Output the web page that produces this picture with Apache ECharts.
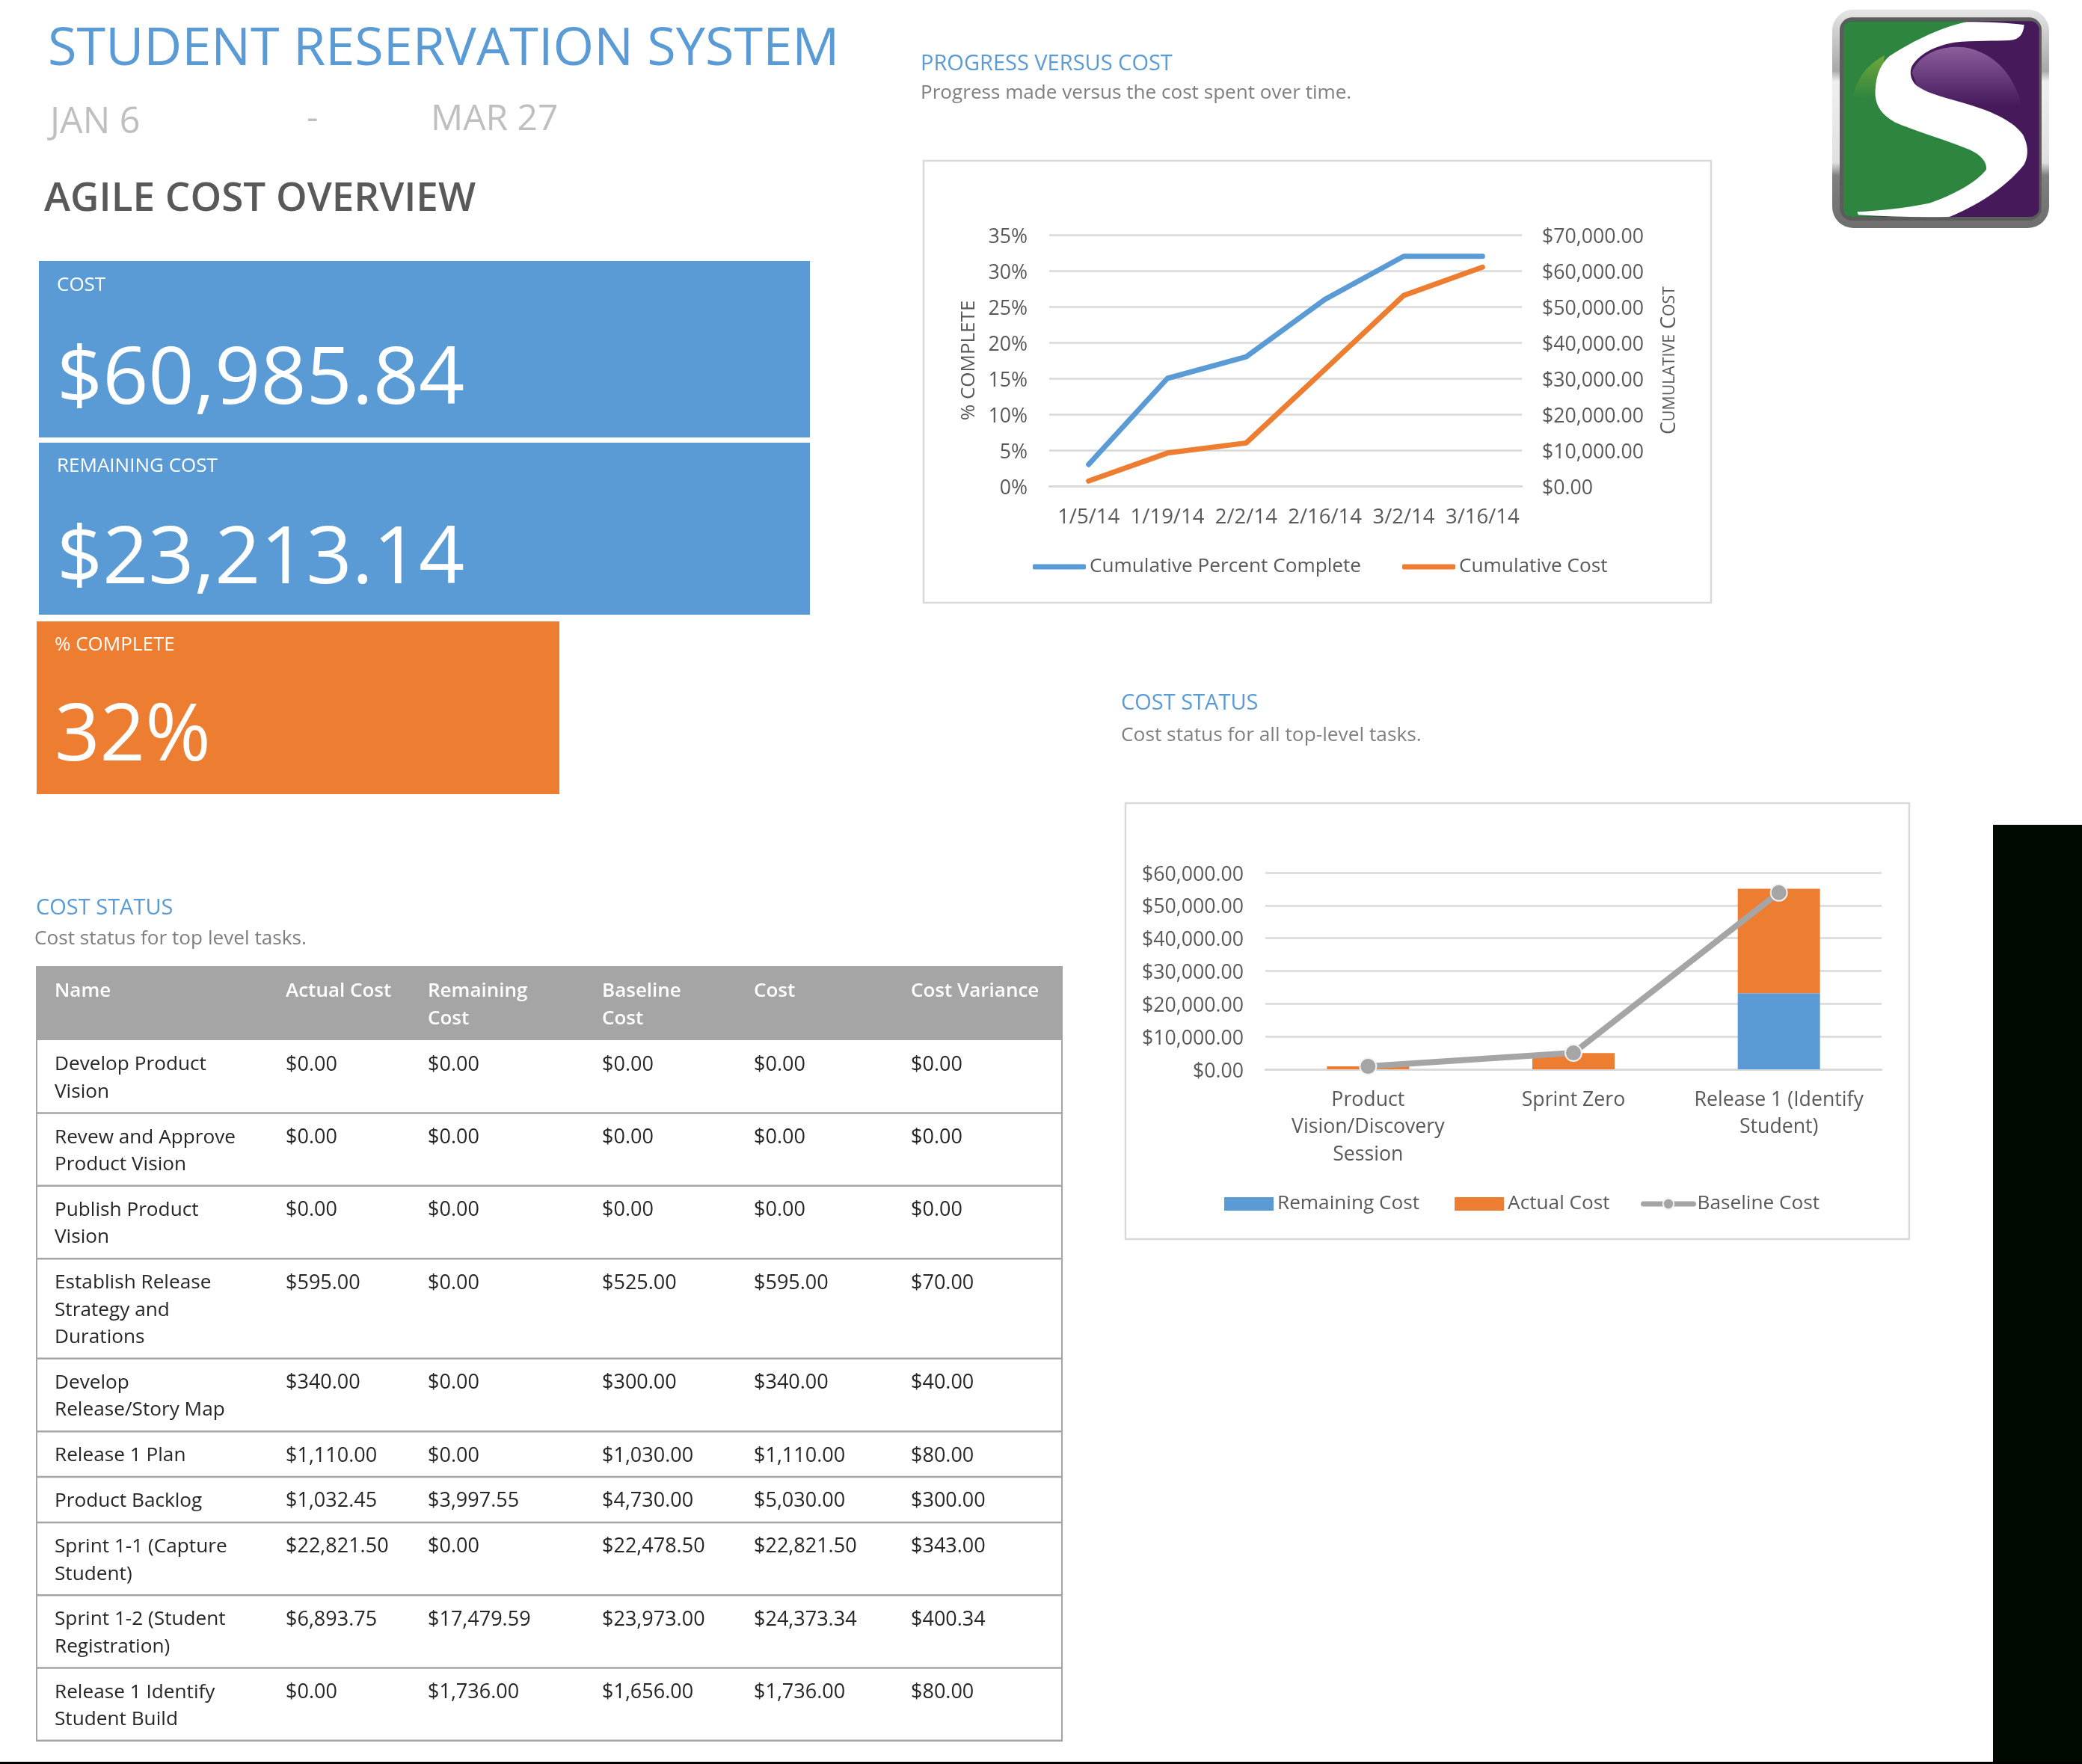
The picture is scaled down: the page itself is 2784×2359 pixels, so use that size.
<!DOCTYPE html>
<html><head><meta charset="utf-8">
<style>html,body{margin:0;padding:0;background:#fff}#c{width:2784px;height:2359px}</style>
<script src="https://cdn.jsdelivr.net/npm/echarts@6/dist/echarts.min.js"></script>
</head><body><div id="c"></div>
<script>
// ---------- data ----------
const progressDates = ['1/5/14','1/19/14','2/2/14','2/16/14','3/2/14','3/16/14'];
const cumulativePercent = [3,15,18,26,32,32];
const cumulativeCost = [1400,9200,12000,32500,53100,60985.84];

const statusCategories = ['Product\nVision/Discovery\nSession','Sprint Zero','Release 1 (Identify\nStudent)'];
const remainingSeries = [0,0,23213.14];
const actualSeries = [935,4980,31857.70];
const baselineSeries = [900,5000,53900];

const tableHeaders = ['Name','Actual Cost','Remaining\nCost','Baseline\nCost','Cost','Cost Variance'];
const taskNames = ['Develop Product\nVision','Revew and Approve\nProduct Vision','Publish Product\nVision','Establish Release\nStrategy and\nDurations','Develop\nRelease/Story Map','Release 1 Plan','Product Backlog','Sprint 1-1 (Capture\nStudent)','Sprint 1-2 (Student\nRegistration)','Release 1 Identify\nStudent Build'];
const actualCost = ['$0.00','$0.00','$0.00','$595.00','$340.00','$1,110.00','$1,032.45','$22,821.50','$6,893.75','$0.00'];
const remainingCost = ['$0.00','$0.00','$0.00','$0.00','$0.00','$0.00','$3,997.55','$0.00','$17,479.59','$1,736.00'];
const baselineCost = ['$0.00','$0.00','$0.00','$525.00','$300.00','$1,030.00','$4,730.00','$22,478.50','$23,973.00','$1,656.00'];
const totalCost = ['$0.00','$0.00','$0.00','$595.00','$340.00','$1,110.00','$5,030.00','$22,821.50','$24,373.34','$1,736.00'];
const costVariance = ['$0.00','$0.00','$0.00','$70.00','$40.00','$80.00','$300.00','$343.00','$400.34','$80.00'];

// ---------- style ----------
const FF = '"Open Sans"';
const BLUE = '#5b9bd5', ORANGE = '#ed7d31', GREY = '#a5a5a5', TXT = '#595959', GRID = '#d9d9d9';
const money = v => '{t|$' + v.toLocaleString('en-US',{minimumFractionDigits:2,maximumFractionDigits:2}) + '}';
const pct = v => '{t|' + v + '%}';

const g = [];
const T = (text,x,y,size,fill,weight) => g.push({type:'text',silent:true,style:{
  text,x,y,fill,font:`${weight||400} ${size}px ${FF}`,align:'left',verticalAlign:'middle'}});
const R = (x,y,w,h,fill) => g.push({type:'rect',silent:true,shape:{x,y,width:w,height:h},style:{fill}});
const B = (x,y,w,h) => g.push({type:'rect',silent:true,shape:{x,y,width:w,height:h},style:{fill:'none',stroke:GRID,lineWidth:2.5}});

// page heading
T('STUDENT RESERVATION SYSTEM',64,67,70.2,BLUE);
T('JAN 6',67,164,48.5,'#bfbfbf');
T('-',410,159,48,'#bfbfbf');
T('MAR 27',576,160,48,'#bfbfbf');
T('AGILE COST OVERVIEW',59,267,53,TXT,600);

// KPI tiles
R(52,349,1031,236,BLUE);
T('COST',76,382,26,'#fff');
T('$60,985.84',76,510,107,'#fff',400);
R(52,592,1031,230,BLUE);
T('REMAINING COST',76,624,26,'#fff');
T('$23,213.14',76,750,107,'#fff',400);
R(49,831,699,231,ORANGE);
T('% COMPLETE',73,863,26,'#fff');
T('32%',73,987,106,'#fff',400);

// section headings
T('PROGRESS VERSUS COST',1231,86,29,BLUE);
T('Progress made versus the cost spent over time.',1231,125,26.1,'#7f7f7f');
T('COST STATUS',1499,941,29,BLUE);
T('Cost status for all top-level tasks.',1499,984,26.3,'#7f7f7f');
T('COST STATUS',48,1215,29,BLUE);
T('Cost status for top level tasks.',46,1256,26.2,'#7f7f7f');

// chart frames
B(1235,215,1053,591);
B(1505,1074,1048,583);

// table
const colX = [73,382,572,805,1008,1218];
const tableL = 48, tableR = 1421, lineH = 36.4;
const columns = [taskNames,actualCost,remainingCost,baselineCost,totalCost,costVariance];
R(tableL,1292,tableR-tableL,99,GREY);
tableHeaders.forEach((h,i)=>h.split('\n').forEach((s,j)=>T(s,colX[i],1326+j*lineH,26,'#fff',600)));
let rowTop = 1391;
taskNames.forEach((name,r)=>{
  const lines = name.split('\n').length;
  const rowH = 24.5 + lineH*lines;
  columns.forEach((col,c)=>col[r].split('\n').forEach((s,j)=>T(s,colX[c],rowTop+33+j*lineH,c?27:26.2,'#262626')));
  rowTop += rowH;
  R(tableL,rowTop-1,tableR-tableL,2.5,GREY);
});
R(tableL,1391,2,rowTop-1391,GREY);
R(tableR-2,1391,2,rowTop-1391,GREY);

// black page edge
R(2665,1103,119,1256,'#000a00');
R(0,2356,2784,3,'#000000');

// logo (decorative, drawn in 3x logo-local units)
const logoPath = (name,d) => echarts.graphic.registerShape(name,echarts.graphic.extendPath(d,{}));
logoPath('logoGreen','M230 85 L690 85 L575 150 L420 250 L400 350 L500 470 L800 560 L850 640 L780 760 L620 865 L230 870 Q195 870 195 835 L195 120 Q195 85 230 85 Z');
logoPath('logoGlowG','M235 385 C250 310 290 260 360 222 L335 400 Z');
logoPath('logoGlowP','M470 290 C500 210 600 180 680 190 C800 210 880 300 910 425 L700 425 L500 370 Z');
logoPath('logoS','M920 100 C860 92 770 88 690 88 C600 105 480 160 380 225 C335 265 322 320 323 385 C328 430 350 460 400 490 C480 525 600 560 700 600 C745 620 772 650 768 680 C730 730 640 780 540 815 C440 835 340 845 250 850 L255 862 C380 870 500 872 620 870 C720 830 840 760 920 660 C940 620 935 580 915 540 C880 490 800 450 700 420 C620 395 540 380 490 345 C465 325 458 290 470 265 C500 215 560 185 640 170 C720 162 800 165 860 162 C890 160 915 150 920 100 Z');
g.push({type:'group',x:2400,y:0,scaleX:1/3,scaleY:1/3,silent:true,children:[
  {type:'rect',shape:{x:150,y:38,width:870,height:877,r:85},style:{fill:{type:'linear',x:0,y:0,x2:0,y2:1,colorStops:[
    {offset:0,color:'#e6e6e6'},{offset:.28,color:'#a8a8a8'},{offset:.33,color:'#efefef'},{offset:.7,color:'#e0e0e0'},{offset:.76,color:'#808080'},{offset:1,color:'#6e6e6e'}]}}},
  {type:'rect',shape:{x:180,y:70,width:810,height:815,r:50},style:{fill:'#5c5c5c'}},
  {type:'rect',shape:{x:195,y:85,width:785,height:785,r:35},style:{fill:'#45195a'}},
  {type:'logoGreen',style:{fill:'#2e8540'}},
  {type:'logoGlowG',style:{fill:{type:'linear',x:0,y:0,x2:0,y2:1,colorStops:[{offset:0,color:'#6ea63a'},{offset:1,color:'#2e8540'}]}}},
  {type:'logoGlowP',style:{fill:{type:'linear',x:0,y:0,x2:0,y2:1,colorStops:[{offset:0,color:'#8c5e9e'},{offset:1,color:'#45195a'}]}}},
  {type:'logoS',style:{fill:'#ffffff'}}
]});

const axisText = {color:TXT,fontFamily:FF,fontSize:26.7};
const legendText = {color:TXT,fontFamily:FF,fontSize:26.2};
const yRich = {rich:{t:{color:TXT,fontFamily:FF,fontSize:26.7,padding:[6,0,0,0]}}};
const grid1 = {left:1403,top:314,width:632,height:336};
const grid2 = {left:1692,top:1167,width:824,height:263};

const option = {
  animation:false,
  backgroundColor:'#ffffff',
  textStyle:{fontFamily:FF},
  grid:[grid1,grid2],
  legend:[
    {left:1381,top:745,itemWidth:71,itemHeight:7,itemGap:55,icon:'roundRect',textStyle:legendText,padding:0,
     data:['Cumulative Percent Complete','Cumulative Cost']},
    {left:1637,top:1597,itemWidth:66,itemHeight:18,itemGap:47,icon:'rect',textStyle:legendText,padding:0,
     data:['Remaining Cost','Actual Cost']},
    {left:2194,top:1597,itemWidth:67,itemHeight:18,textStyle:legendText,padding:0,
     lineStyle:{width:7,cap:'round'},data:['Baseline Cost']}
  ],
  xAxis:[
    {type:'category',gridIndex:0,data:progressDates,boundaryGap:true,axisTick:{show:false},
     axisLine:{lineStyle:{color:GRID,width:2.5}},
     axisLabel:Object.assign({},axisText,{margin:28,interval:0,fontSize:27.5})},
    {type:'category',gridIndex:1,data:statusCategories,axisTick:{show:false},
     axisLine:{lineStyle:{color:GRID,width:2.5}},
     axisLabel:Object.assign({margin:23,interval:0,lineHeight:36.5},axisText)}
  ],
  yAxis:[
    {type:'value',gridIndex:0,min:0,max:35,interval:5,axisLine:{show:false},axisTick:{show:false},
     splitLine:{lineStyle:{color:GRID,width:2.5}},
     axisLabel:Object.assign({margin:29,formatter:pct},yRich),
     name:'% COMPLETE',nameLocation:'middle',nameRotate:90,nameGap:94,
     nameTextStyle:{color:TXT,fontFamily:FF,fontSize:26}},
    {type:'value',gridIndex:0,position:'right',min:0,max:70000,interval:10000,axisLine:{show:false},axisTick:{show:false},
     splitLine:{show:false},
     axisLabel:Object.assign({margin:27,formatter:money},yRich),
     name:'{a|C}{b|UMULATIVE}{a| C}{b|OST}',nameLocation:'middle',nameRotate:90,nameGap:184,
     nameTextStyle:{color:TXT,fontFamily:FF,rich:{a:{fontSize:27,color:TXT,fontFamily:FF},b:{fontSize:21.3,color:TXT,fontFamily:FF}}}},
    {type:'value',gridIndex:1,min:0,max:60000,interval:10000,axisLine:{show:false},axisTick:{show:false},
     splitLine:{lineStyle:{color:GRID,width:2.5}},
     axisLabel:Object.assign({margin:29,formatter:money},yRich)}
  ],
  series:[
    {name:'Cumulative Percent Complete',type:'line',xAxisIndex:0,yAxisIndex:0,data:cumulativePercent,showSymbol:false,symbol:'none',
     lineStyle:{color:BLUE,width:7,cap:'round',join:'round'},itemStyle:{color:BLUE}},
    {name:'Cumulative Cost',type:'line',xAxisIndex:0,yAxisIndex:1,data:cumulativeCost,showSymbol:false,symbol:'none',
     lineStyle:{color:ORANGE,width:7,cap:'round',join:'round'},itemStyle:{color:ORANGE}},
    {name:'Remaining Cost',type:'bar',stack:'cost',xAxisIndex:1,yAxisIndex:2,data:remainingSeries,barWidth:110,itemStyle:{color:BLUE}},
    {name:'Actual Cost',type:'bar',stack:'cost',xAxisIndex:1,yAxisIndex:2,data:actualSeries,barWidth:110,itemStyle:{color:ORANGE}},
    {name:'Baseline Cost',type:'line',xAxisIndex:1,yAxisIndex:2,data:baselineSeries,symbol:'circle',symbolSize:22,z:5,
     lineStyle:{color:GREY,width:8,cap:'round'},itemStyle:{color:GREY,borderColor:'#f2f2f2',borderWidth:2}}
  ],
  graphic:{elements:g}
};
echarts.init(document.getElementById('c'),null,{renderer:'canvas'}).setOption(option);
</script></body></html>
